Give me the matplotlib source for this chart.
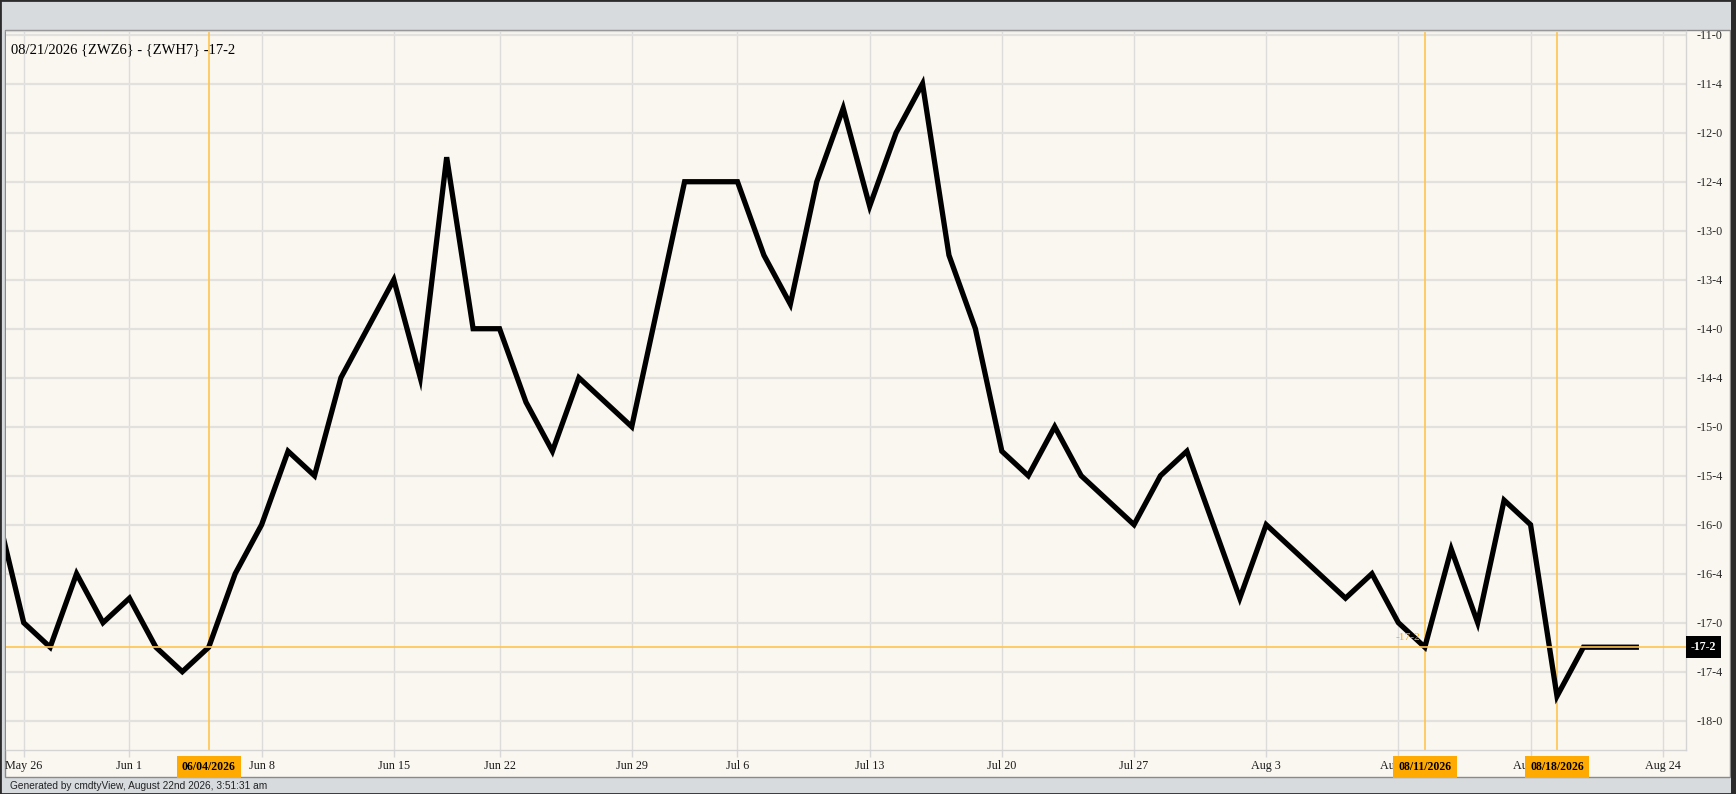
import numpy as np
import matplotlib
matplotlib.use("Agg")
import matplotlib.pyplot as plt
from matplotlib.patches import Rectangle

# Spread ZWZ6 - ZWH7, cents (fractions in eighths)
holidays = ["2026-05-25", "2026-06-19", "2026-07-03"]
dates = ["2026-05-22", "2026-05-26", "2026-05-27", "2026-05-28", "2026-05-29",
         "2026-06-01", "2026-06-02", "2026-06-03", "2026-06-04", "2026-06-05",
         "2026-06-08", "2026-06-09", "2026-06-10", "2026-06-11", "2026-06-12",
         "2026-06-15", "2026-06-16", "2026-06-17", "2026-06-18",
         "2026-06-22", "2026-06-23", "2026-06-24", "2026-06-25", "2026-06-26",
         "2026-06-29", "2026-06-30", "2026-07-01", "2026-07-02",
         "2026-07-06", "2026-07-07", "2026-07-08", "2026-07-09", "2026-07-10",
         "2026-07-13", "2026-07-14", "2026-07-15", "2026-07-16", "2026-07-17",
         "2026-07-20", "2026-07-21", "2026-07-22", "2026-07-23", "2026-07-24",
         "2026-07-27", "2026-07-28", "2026-07-29", "2026-07-30", "2026-07-31",
         "2026-08-03", "2026-08-04", "2026-08-05", "2026-08-06", "2026-08-07",
         "2026-08-10", "2026-08-11", "2026-08-12", "2026-08-13", "2026-08-14",
         "2026-08-17", "2026-08-18", "2026-08-19", "2026-08-20", "2026-08-21"]
values = [-15.875, -17.0, -17.25, -16.5, -17.0,
          -16.75, -17.25, -17.5, -17.25, -16.5,
          -16.0, -15.25, -15.5, -14.5, -14.0,
          -13.5, -14.5, -12.25, -14.0,
          -14.0, -14.75, -15.25, -14.5, -14.75,
          -15.0, -13.75, -12.5, -12.5,
          -12.5, -13.25, -13.75, -12.5, -11.75,
          -12.75, -12.0, -11.5, -13.25, -14.0,
          -15.25, -15.5, -15.0, -15.5, -15.75,
          -16.0, -15.5, -15.25, -16.0, -16.75,
          -16.0, -16.25, -16.5, -16.75, -16.5,
          -17.0, -17.25, -16.25, -17.0, -15.75,
          -16.0, -17.75, -17.25, -17.25, -17.25]

tick_dates = ["2026-05-26", "2026-06-01", "2026-06-08", "2026-06-15", "2026-06-22",
              "2026-06-29", "2026-07-06", "2026-07-13", "2026-07-20", "2026-07-27",
              "2026-08-03", "2026-08-10", "2026-08-17", "2026-08-24"]
tick_labels = ["May 26", "Jun 1", "Jun 8", "Jun 15", "Jun 22", "Jun 29", "Jul 6",
               "Jul 13", "Jul 20", "Jul 27", "Aug 3", "Aug 10", "Aug 17", "Aug 24"]
marker_dates = ["2026-06-04", "2026-08-11", "2026-08-18"]
marker_labels = ["06/04/2026", "08/11/2026", "08/18/2026"]
y_ticks = np.arange(-18.0, -10.99, 0.5)
last_value = -17.25
title = "08/21/2026 {ZWZ6} - {ZWH7} -17-2"
footer = "Generated by cmdtyView, August 22nd 2026, 3:51:31 am"

ORANGE_LINE = "#ffc44d"
ORANGE_BOX = "#ffaa00"
CREAM = "#faf7f0"
BAND = "#d7dbde"
SERIF = "Liberation Serif"


def tday(d):
    # trading-day index, May 26 = 0
    return int(np.busday_count("2026-05-26", d, holidays=holidays))


def frac(v):
    w = int(abs(v))
    e = int(round((abs(v) - w) * 8))
    return f"-{w}-{e}"


x = [tday(d) for d in dates]

W, H = 1736, 794
fig = plt.figure(figsize=(W / 100, H / 100), dpi=100, facecolor=BAND)

# cream panel + outer frame
fig.patches.append(Rectangle((5 / W, 1 - 777 / H), 1725 / W, 747 / H, transform=fig.transFigure,
                             facecolor=CREAM, edgecolor="#8a8a8a", lw=1, zorder=-2))
fig.patches.append(Rectangle((1731 / W, 0), 5 / W, 1, transform=fig.transFigure,
                             facecolor="#2b2b2b", edgecolor="none", zorder=-2))
fig.patches.append(Rectangle((0, 0), 1, 1, transform=fig.transFigure, fill=False,
                             edgecolor="#2b2b2b", lw=2, zorder=-1))

ax = fig.add_axes([5.7 / W, 1 - 750 / H, (1686 - 5.7) / W, (750 - 31) / H])
ax.set_facecolor(CREAM)

ax.plot(x, values, color="black", lw=3.8, solid_joinstyle="miter", zorder=2, clip_on=True)

ax.axhline(last_value, color=ORANGE_LINE, lw=1.2, zorder=3)
for d, lab in zip(marker_dates, marker_labels):
    ax.axvline(tday(d), color=ORANGE_LINE, lw=1.2, zorder=1.8)
    ax.text(tday(d), -0.0235, lab, transform=ax.get_xaxis_transform(), ha="center", va="center",
            fontsize=8.5, fontweight="bold", family=SERIF, color="black", zorder=6, clip_on=False,
            bbox=dict(boxstyle="square,pad=0.45", facecolor=ORANGE_BOX, edgecolor="none"))

ax.annotate(frac(last_value), (tday(marker_dates[1]), last_value), xytext=(-3, 4),
            textcoords="offset points", ha="right", va="bottom", fontsize=8.2,
            family=SERIF, color=ORANGE_BOX, zorder=4)

ax.text(1.0028, last_value, frac(last_value), transform=ax.get_yaxis_transform(), ha="left",
        va="center", fontsize=8.6, fontweight="bold", family=SERIF, color="white", zorder=6,
        clip_on=False, bbox=dict(boxstyle="square,pad=0.42", facecolor="black", edgecolor="none"))

ax.text(0.0032, 0.983, title, transform=ax.transAxes, ha="left", va="top", fontsize=10.5,
        family=SERIF, color="black")

ax.set_xlim(-0.681, 62.88)
ax.set_ylim(-18.299, -10.962)

ax.set_xticks([tday(d) for d in tick_dates])
ax.set_xticklabels(tick_labels, family=SERIF)
ax.set_yticks(y_ticks)
ax.set_yticklabels([frac(v) for v in y_ticks], family=SERIF)
ax.yaxis.tick_right()

ax.tick_params(axis="x", length=5, width=1, color="#d8d8d8", pad=2.5, labelsize=8.7, labelcolor="#1a1a1a")
ax.tick_params(axis="y", length=0, pad=7.9, labelsize=8.7, labelcolor="#2a2a2a")

ax.set_axisbelow(True)
ax.yaxis.grid(True, color="#e3e1dd", lw=1.6)
ax.xaxis.grid(True, color="#dcdcdc", lw=1.0)

ax.spines["left"].set_visible(False)
for side in ["top", "right", "bottom"]:
    ax.spines[side].set_color("#d4d4d4")
    ax.spines[side].set_linewidth(1.0)

fig.text(9.5 / W, 1 - 786 / H, footer, ha="left", va="center", fontsize=7.3,
         family="Liberation Sans", color="#222222")

fig.savefig("out.png", dpi=100, facecolor=BAND)
